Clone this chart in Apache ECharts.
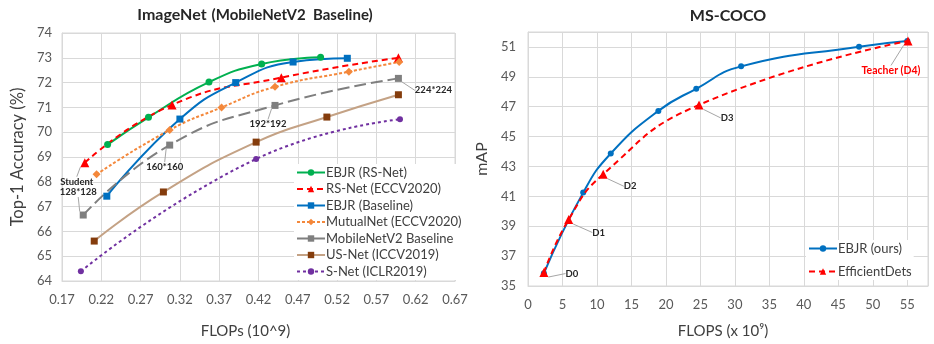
<!DOCTYPE html>
<html>
<head>
<meta charset="utf-8">
<script src="https://cdn.jsdelivr.net/npm/echarts@6/dist/echarts.min.js"></script>
<style>
  html, body { margin: 0; padding: 0; background: #fff; }
  #main { width: 934px; height: 344px; }
</style>
</head>
<body>
<div id="main"></div>
<script>
// ImageNet data (FLOPs in 10^9, top-1 accuracy %)
var ebjrRsX = [0.228, 0.28, 0.357, 0.424, 0.499];
var ebjrRsY = [69.5, 70.6, 72.02, 72.75, 73.02];
var rsNetX = [0.199, 0.31, 0.449, 0.598];
var rsNetY = [68.77, 71.1, 72.2, 73.0];
var ebjrBaseX = [0.227, 0.32, 0.391, 0.464, 0.533];
var ebjrBaseY = [67.42, 70.53, 72.0, 72.83, 72.98];
var mutualX = [0.214, 0.307, 0.373, 0.441, 0.535, 0.599];
var mutualY = [68.3, 70.09, 71.0, 71.83, 72.44, 72.83];
var mbv2X = [0.197, 0.307, 0.441, 0.598];
var mbv2Y = [66.66, 69.48, 71.08, 72.17];
var usNetX = [0.211, 0.299, 0.417, 0.507, 0.598];
var usNetY = [65.61, 67.59, 69.6, 70.61, 71.51];
var sNetX = [0.194, 0.417, 0.6];
var sNetY = [64.39, 68.92, 70.52];
var mbv2Labels = ['128*128', '160*160', '192*192', '224*224'];

// MS-COCO data (FLOPS in 10^9, mAP)
var cocoEbjrX = [2.3, 8.0, 12.0, 18.9, 24.4, 30.9, 48.0, 55.0];
var cocoEbjrY = [35.85, 41.25, 43.87, 46.72, 48.2, 49.7, 51.02, 51.4];
var effX = [2.3, 5.9, 10.9, 24.8, 55.1];
var effY = [35.9, 39.45, 42.48, 47.12, 51.4];
var effLabels = ['D0', 'D1', 'D2', 'D3', 'Teacher (D4)'];

var leftNames = ['EBJR (RS-Net)', 'RS-Net (ECCV2020)', 'EBJR (Baseline)', 'MutualNet (ECCV2020)',
    'MobileNetV2 Baseline', 'US-Net (ICCV2019)', 'S-Net (ICLR2019)'];
var rightNames = ['EBJR (ours)', 'EfficientDets'];

(function() {
    var myChart = echarts.init(document.getElementById('main'));
    var font = 'Lato, "Noto Sans", sans-serif';
    var gridColor = '#d9d9d9';

    function zip(xs, ys) {
        return xs.map(function(x, i) { return [x, ys[i]]; });
    }
    // label offsets (px) from the point, keyed by series name
    var labelOffsets = {
        'RS-Net (ECCV2020)': { 0: [-8, 19] },
        'MobileNetV2 Baseline': { 0: [-5, -23], 1: [-5, 22], 2: [-7, 19], 3: [35, 12] },
        'EfficientDets': { 0: [28, 1], 1: [30, 13], 2: [27, 12], 3: [28, 13], 4: [-17, 30] }
    };
    var annoLabel = {
        show: true,
        position: 'inside',
        fontFamily: font,
        fontSize: 9.5,
        fontWeight: 'bold',
        color: '#262626'
    };
    function labelled(xs, ys, texts, idx, extra) {
        return zip(xs, ys).map(function(p, i) {
            if (idx.indexOf(i) < 0) return p;
            return {
                value: p,
                label: Object.assign({}, annoLabel, { formatter: texts[i] }, extra && extra(i)),
                labelLine: { show: true, lineStyle: { color: '#a6a6a6', width: 1 } }
            };
        });
    }

    function axisBase(gridIndex) {
        return {
            gridIndex: gridIndex,
            type: 'value',
            axisLine: { show: true, lineStyle: { color: gridColor } },
            axisTick: { show: false },
            splitLine: { show: true, lineStyle: { color: gridColor } },
            axisLabel: { color: '#595959', fontFamily: font, fontSize: 13 },
            nameLocation: 'middle',
            nameTextStyle: { color: '#404040', fontFamily: font, fontSize: 15 }
        };
    }

    function lineSeries(name, data, color, opts) {
        return Object.assign({
            name: name,
            type: 'line',
            smooth: true,
            data: data,
            symbolSize: 6,
            itemStyle: { color: color },
            lineStyle: { color: color, width: 2 },
            labelLayout: function(params) {
                var tbl = labelOffsets[name];
                var o = tbl && tbl[params.dataIndex];
                return o ? { dx: o[0], dy: o[1] } : {};
            },
            z: 2
        }, opts);
    }

    var option = {
        animation: false,
        backgroundColor: '#fff',
        title: [{
            text: '{b|ImageNet} {n|(MobileNetV2  Baseline)}',
            left: 250,
            top: 1,
            textAlign: 'center',
            textStyle: {
                rich: {
                    b: { fontFamily: font, fontSize: 16, fontWeight: 'bold', color: '#262626' },
                    n: { fontFamily: font, fontSize: 15, color: '#262626' }
                }
            }
        }, {
            text: 'MS-COCO',
            left: 723,
            top: 3,
            textAlign: 'center',
            textStyle: { fontFamily: font, fontSize: 16, fontWeight: 'bold', color: '#262626' }
        }],
        grid: [
            { left: 62, top: 33, width: 393, height: 248, show: true, borderColor: gridColor, borderWidth: 1 },
            { left: 528, top: 32, width: 400, height: 255, show: true, borderColor: gridColor, borderWidth: 1 }
        ],
        legend: [{
            data: leftNames,
            orient: 'vertical',
            left: 294,
            top: 164,
            itemWidth: 28,
            itemHeight: 8,
            itemGap: 3.5,
            padding: [2, 4, 2, 2],
            backgroundColor: '#fff',
            textStyle: { color: '#404040', fontFamily: font, fontSize: 13, padding: [0, 0, 0, -4] }
        }, {
            data: rightNames,
            orient: 'vertical',
            left: 806,
            top: 240,
            itemWidth: 28,
            itemHeight: 8,
            itemGap: 10,
            padding: 2,
            backgroundColor: '#fff',
            textStyle: { color: '#404040', fontFamily: font, fontSize: 13, padding: [0, 0, 0, -4] }
        }],
        xAxis: [
            Object.assign(axisBase(0), {
                min: 0.17, max: 0.67, interval: 0.05,
                name: 'FLOPs (10^9)', nameGap: 43,
                nameTextStyle: { color: '#404040', fontFamily: font, fontSize: 15, padding: [0, 26, 0, 0] },
                axisLabel: { color: '#595959', fontFamily: font, fontSize: 13, margin: 12,
                    formatter: function(v) { return v.toFixed(2); } }
            }),
            Object.assign(axisBase(1), {
                min: 0, max: 58, interval: 5,
                name: 'FLOPS (x 10⁹)', nameGap: 38,
                nameTextStyle: { color: '#404040', fontFamily: font, fontSize: 15, padding: [0, 10, 0, 0] },
                axisLabel: { color: '#595959', fontFamily: font, fontSize: 13, margin: 12, showMaxLabel: false }
            })
        ],
        yAxis: [
            Object.assign(axisBase(0), {
                min: 64, max: 74, interval: 1,
                name: 'Top-1 Accuracy (%)', nameGap: 36,
                nameTextStyle: { color: '#404040', fontFamily: font, fontSize: 16.5 },
                axisLabel: { color: '#595959', fontFamily: font, fontSize: 13, margin: 10 }
            }),
            Object.assign(axisBase(1), {
                min: 35, max: 52, interval: 2,
                name: 'mAP', nameGap: 38,
                nameTextStyle: { color: '#404040', fontFamily: font, fontSize: 16 },
                axisLabel: { color: '#595959', fontFamily: font, fontSize: 13, margin: 12, showMaxLabel: false }
            })
        ],
        series: [
            lineSeries(leftNames[0], zip(ebjrRsX, ebjrRsY), '#00b050', { symbol: 'circle', symbolSize: 7 }),
            lineSeries(leftNames[1], labelled(rsNetX, rsNetY, ['Student'], [0]), '#ff0000', {
                symbol: 'triangle', symbolSize: 9,
                lineStyle: { color: '#ff0000', width: 2, type: [6, 4] }
            }),
            lineSeries(leftNames[2], zip(ebjrBaseX, ebjrBaseY), '#0070c0', { symbol: 'rect', symbolSize: 7 }),
            lineSeries(leftNames[3], zip(mutualX, mutualY), '#f4883b', {
                symbol: 'diamond', symbolSize: 8,
                lineStyle: { color: '#f4883b', width: 2, type: [3, 2] }
            }),
            lineSeries(leftNames[4], labelled(mbv2X, mbv2Y, mbv2Labels, [0, 1, 2, 3]), '#7f7f7f', {
                symbol: 'rect', symbolSize: 7,
                lineStyle: { color: '#7f7f7f', width: 2, type: [12, 5] }
            }),
            lineSeries(leftNames[5], zip(usNetX, usNetY), '#843c0c', {
                symbol: 'rect', symbolSize: 7,
                lineStyle: { color: '#c4a285', width: 2 }
            }),
            lineSeries(leftNames[6], zip(sNetX, sNetY), '#7030a0', {
                symbol: 'circle', symbolSize: 6,
                lineStyle: { color: '#7030a0', width: 2, type: [3, 3] }
            }),
            lineSeries(rightNames[0], zip(cocoEbjrX, cocoEbjrY), '#0070c0', {
                xAxisIndex: 1, yAxisIndex: 1, symbol: 'circle', symbolSize: 6, z: 3
            }),
            lineSeries(rightNames[1], labelled(effX, effY, effLabels, [0, 1, 2, 3, 4], function(i) {
                return i === 4 ? { color: '#ff0000', fontSize: 10.5 } : {};
            }), '#ff0000', {
                xAxisIndex: 1, yAxisIndex: 1, symbol: 'triangle', symbolSize: 9, z: 4,
                lineStyle: { color: '#ff0000', width: 2, type: [6, 4] }
            })
        ]
    };
    myChart.setOption(option);
})();
</script>
</body>
</html>
